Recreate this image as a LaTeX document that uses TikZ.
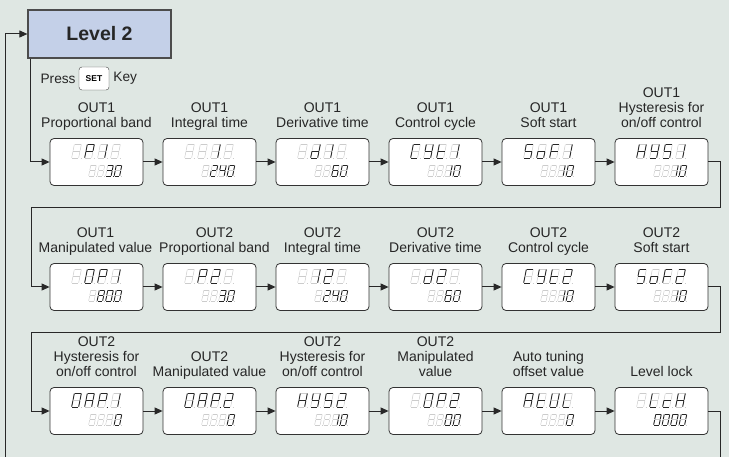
\documentclass[tikz,border=0pt]{standalone}
\usepackage{fontspec}
\setmainfont{Liberation Sans}
\usetikzlibrary{positioning,calc,arrows.meta}

\definecolor{panel}{RGB}{223,231,227}
\definecolor{lvlblue}{RGB}{196,208,232}
\definecolor{linegray}{RGB}{40,40,40}

% segment end points of one slanted digit (10 high)
\newcommand{\segcoords}{\path (2,0) coordinate (a0) (7,0) coordinate (a1)
  (7,0) coordinate (b0) (6,5) coordinate (b1)
  (6,5) coordinate (c0) (5,10) coordinate (c1)
  (0,10) coordinate (d0) (5,10) coordinate (d1)
  (1,5) coordinate (e0) (0,10) coordinate (e1)
  (2,0) coordinate (f0) (1,5) coordinate (f1)
  (1,5) coordinate (g0) (6,5) coordinate (g1)
  (6.2,10) coordinate (p0) (7.4,10) coordinate (p1);}
\def\blank{-}

% #1 box, #2 upper digits, #3 lower digits
\newcommand{\readout}[3]{%
  \foreach \segs [count=\i] in {#2}{%
    \pic[scale=1.4] at ($(#1.north west)+(13*\i+9,6)$) {ghost};
    \ifx\segs\blank\else\pic[scale=1.4] at ($(#1.north west)+(13*\i+9,6)$) {lit=\segs};\fi}
  \foreach \segs [count=\i] in {#3}{%
    \pic[scale=1.1] at ($(#1.north west)+(8.5*\i+30.5,27)$) {ghost};
    \ifx\segs\blank\else\pic[scale=1.1] at ($(#1.north west)+(8.5*\i+30.5,27)$) {lit=\segs};\fi}%
}

\tikzset{
  segoff/.style={draw=gray!40,line width=0.5pt,shorten <=0.4pt,shorten >=0.4pt},
  segon/.style={draw=black!85,line width=0.9pt,shorten <=0.4pt,shorten >=0.4pt},
  pics/ghost/.style={code={\segcoords
      \foreach \sg in {a,b,c,d,e,f,g} {\draw[segoff] (\sg0) -- (\sg1);}
      \draw[segoff,line width=0.9pt] (p0) -- (p1);}},
  pics/lit/.style={code={\segcoords
      \foreach \sg in #1 {\draw[segon] (\sg0) -- (\sg1);}}},
  lvlbox/.style={draw=black!70,line width=1.2pt,fill=lvlblue,minimum width=143pt,
    minimum height=48pt,font=\fontsize{19.5}{22}\selectfont\bfseries,text=black!85},
  readbox/.style={draw=black!80,line width=0.8pt,fill=white,rounded corners=4pt,
    minimum width=93pt,minimum height=47pt},
  caption/.style={align=center,inner sep=0pt,font=\fontsize{14}{15}\selectfont,
    text=black!85,execute at end node=\strut},
  keycap/.style={draw=black!75,fill=white,rounded corners=3pt,minimum width=30pt,
    minimum height=23pt,inner sep=0pt,font=\fontsize{8.5}{9}\selectfont\bfseries},
  keytext/.style={inner sep=0pt,font=\fontsize{13.7}{16}\selectfont,text=black!85},
  link/.style={draw=linegray,line width=1pt},
  flow/.style={link,-{Triangle[length=8pt,width=7pt]}}
}

\begin{document}
\begin{tikzpicture}[x=1pt,y=-1pt]

  \useasboundingbox[fill=panel] (0,0) rectangle (729,457);

  % Level 2 and key
  \node[lvlbox] (lvl) at (99.5,34) {Level 2};
  \node[keycap] (setkey) at (94,78.5) {SET};
  \node[keytext,left=3pt of setkey] (press) {Press};
  \node[keytext,right=4pt of setkey] (keyword) {Key};

  % display boxes
  \foreach \r/\y in {1/162,2/287,3/411}
    \foreach \k in {1,...,6}
      \node[readbox] (d\r\k) at (96.5+113*\k-113,\y) {};

  % captions
  \node[caption,above=5.5pt of d11] (c11) {OUT1\\Proportional band};
  \node[caption,above=5.5pt of d12] (c12) {OUT1\\Integral time};
  \node[caption,above=5.5pt of d13] (c13) {OUT1\\Derivative time};
  \node[caption,above=5.5pt of d14] (c14) {OUT1\\Control cycle};
  \node[caption,above=5.5pt of d15] (c15) {OUT1\\Soft start};
  \node[caption,above=5.5pt of d16] (c16) {OUT1\\Hysteresis for\\on/off control};
  \node[caption,above=5.5pt of d21,xshift=-1pt] (c21) {OUT1\\Manipulated value};
  \node[caption,above=5.5pt of d22,xshift=5pt] (c22) {OUT2\\Proportional band};
  \node[caption,above=5.5pt of d23] (c23) {OUT2\\Integral time};
  \node[caption,above=5.5pt of d24] (c24) {OUT2\\Derivative time};
  \node[caption,above=5.5pt of d25] (c25) {OUT2\\Control cycle};
  \node[caption,above=5.5pt of d26] (c26) {OUT2\\Soft start};
  \node[caption,above=5.5pt of d31] (c31) {OUT2\\Hysteresis for\\on/off control};
  \node[caption,above=5.5pt of d32] (c32) {OUT2\\Manipulated value};
  \node[caption,above=5.5pt of d33] (c33) {OUT2\\Hysteresis for\\on/off control};
  \node[caption,above=5.5pt of d34] (c34) {OUT2\\Manipulated\\value};
  \node[caption,above=5.5pt of d35] (c35) {Auto tuning\\offset value};
  \node[caption,above=5.5pt of d36] (c36) {Level lock};

  % readouts
  \readout{d11}{-,{a,b,e,f,g},{b,c},-}{-,-,{a,b,c,d,g,p},{a,b,c,d,e,f}}
  \readout{d12}{-,-,{b,c},-}{-,{a,b,d,e,g},{b,c,f,g},{a,b,c,d,e,f}}
  \readout{d13}{-,{b,c,d,e,g},{b,c},-}{-,-,{a,c,d,e,f,g},{a,b,c,d,e,f}}
  \readout{d14}{{a,d,e,f},{b,c,d,f,g},{d,e,f,g},{b,c}}{-,-,{b,c},{a,b,c,d,e,f}}
  \readout{d15}{{a,c,d,f,g},{c,d,e,g},{a,e,f,g},{b,c}}{-,-,{b,c},{a,b,c,d,e,f}}
  \readout{d16}{{b,c,e,f,g},{b,c,d,f,g},{a,c,d,f,g},{b,c}}{-,-,{b,c,p},{a,b,c,d,e,f}}
  \readout{d21}{-,{a,b,c,d,e,f},{a,b,e,f,g},{b,c}}{-,{a,b,c,d,e,f,g},{a,b,c,d,e,f,p},{a,b,c,d,e,f}}
  \readout{d22}{-,{a,b,e,f,g},{a,b,d,e,g},-}{-,-,{a,b,c,d,g,p},{a,b,c,d,e,f}}
  \readout{d23}{-,{b,c},{a,b,d,e,g},-}{-,{a,b,d,e,g},{b,c,f,g},{a,b,c,d,e,f}}
  \readout{d24}{-,{b,c,d,e,g},{a,b,d,e,g},-}{-,-,{a,c,d,e,f,g},{a,b,c,d,e,f}}
  \readout{d25}{{a,d,e,f},{b,c,d,f,g},{d,e,f,g},{a,b,d,e,g}}{-,-,{b,c},{a,b,c,d,e,f}}
  \readout{d26}{{a,c,d,f,g},{c,d,e,g},{a,e,f,g},{a,b,d,e,g}}{-,-,{b,c},{a,b,c,d,e,f}}
  \readout{d31}{{a,b,c,d,e,f},{a,b,c,e,f,g},{a,b,e,f,g,p},{b,c}}{-,-,-,{a,b,c,d,e,f}}
  \readout{d32}{{a,b,c,d,e,f},{a,b,c,e,f,g},{a,b,e,f,g,p},{a,b,d,e,g}}{-,-,-,{a,b,c,d,e,f}}
  \readout{d33}{{b,c,e,f,g},{b,c,d,f,g},{a,c,d,f,g},{a,b,d,e,g}}{-,-,{b,c,p},{a,b,c,d,e,f}}
  \readout{d34}{-,{a,b,c,d,e,f},{a,b,e,f,g},{a,b,d,e,g}}{-,-,{a,b,c,d,e,f,p},{a,b,c,d,e,f}}
  \readout{d35}{{a,b,c,e,f,g},{d,e,f,g},{b,c,d,e,f},{d,e,f}}{-,-,-,{a,b,c,d,e,f}}
  \readout{d36}{-,{d,e,f},{d,e,g},{b,c,e,f,g}}{{a,b,c,d,e,f},{a,b,c,d,e,f},{a,b,c,d,e,f},{a,b,c,d,e,f}}

  % connector ends
  \coordinate (loopin) at (5,457);
  \coordinate (tap) at ([xshift=3pt]lvl.south west);
  \coordinate (right1) at (720,208);
  \coordinate (left1) at (31,208);
  \coordinate (right2) at (720,333);
  \coordinate (left2) at (31,333);
  \coordinate (outend) at (720,457);

  % connectors
  \draw[flow] (loopin) |- (lvl.west);
  \draw[flow] (tap) |- (d11.west);
  \foreach \r in {1,2,3}
    \foreach \k/\n in {1/2,2/3,3/4,4/5,5/6}
      \draw[flow] (d\r\k.east) -- (d\r\n.west);
  \draw[flow] (d16.east) -| (right1) -- (left1) |- (d21.west);
  \draw[flow] (d26.east) -| (right2) -- (left2) |- (d31.west);
  \draw[link] (d36.east) -| (outend);

\end{tikzpicture}
\end{document}
